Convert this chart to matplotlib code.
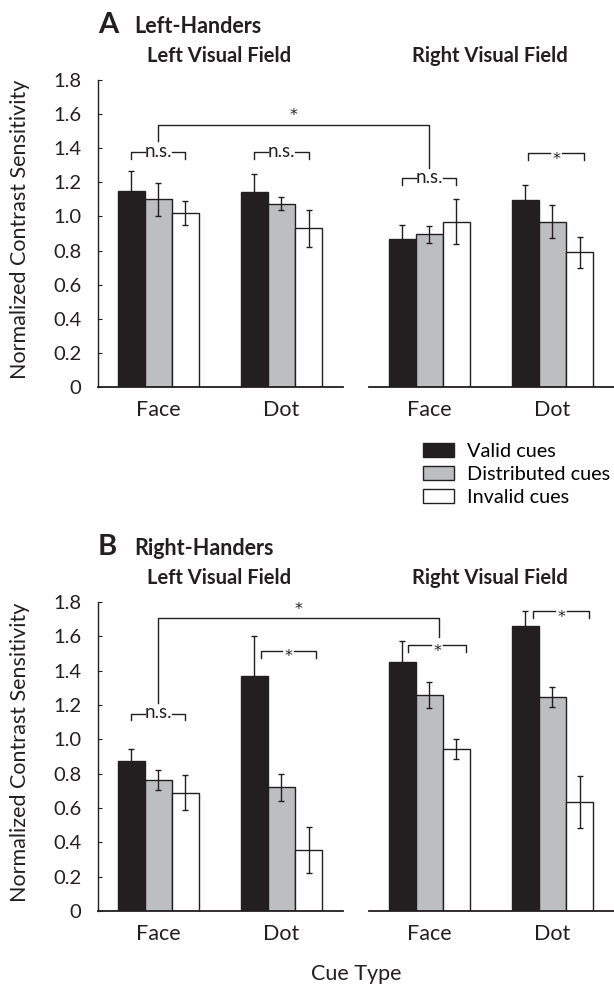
import matplotlib.pyplot as plt
import numpy as np

plt.rcParams['font.family'] = ['Lato', 'DejaVu Sans']

cue_types = ['Face', 'Dot']
conditions = ['Valid cues', 'Distributed cues', 'Invalid cues']
bar_colors = ['#231f20', '#bcbec0', '#ffffff']
ink = '#231f20'

# values per [cue type][condition]
lh_lvf_mean = [[1.15, 1.10, 1.02], [1.145, 1.075, 0.93]]
lh_lvf_err = [[0.115, 0.095, 0.07], [0.105, 0.04, 0.11]]
lh_rvf_mean = [[0.87, 0.895, 0.97], [1.095, 0.97, 0.79]]
lh_rvf_err = [[0.08, 0.05, 0.13], [0.09, 0.095, 0.09]]

rh_lvf_mean = [[0.875, 0.765, 0.69], [1.37, 0.72, 0.355]]
rh_lvf_err = [[0.07, 0.058, 0.10], [0.23, 0.077, 0.133]]
rh_rvf_mean = [[1.45, 1.26, 0.945], [1.66, 1.245, 0.635]]
rh_rvf_err = [[0.125, 0.075, 0.058], [0.09, 0.058, 0.15]]

# significance brackets: (field, cue index, x from, x to, height, label)
lh_brackets = [(0, 0, -0.22, 0.22, 1.375, 'n.s.'),
               (0, 1, -0.22, 0.22, 1.375, 'n.s.'),
               (1, 0, -0.22, 0.22, 1.225, 'n.s.'),
               (1, 1, -0.20, 0.26, 1.37, '*')]
rh_brackets = [(0, 0, -0.22, 0.22, 1.15, 'n.s.'),
               (0, 1, -0.17, 0.28, 1.515, '*'),
               (1, 0, -0.17, 0.30, 1.548, '*'),
               (1, 1, -0.16, 0.30, 1.746, '*')]
# across-field bracket: (left x, left bottom, right x, right bottom, top)
lh_cross = (0.0, 1.44, 0.0, 1.285, 1.537)
rh_cross = (0.0, 1.21, 0.08, 1.597, 1.704)

W, H = 614, 986
fig = plt.figure(figsize=(W / 100, H / 100), dpi=100)

bw = 0.22
x = np.arange(len(cue_types))


def fy(py):
    return 1 - py / H


def star(ax, xs, ys):
    # asterisk glyph sits high in the line, so nudge it down onto the bracket
    ax.text(xs, ys - 0.035, '*', ha='center', va='center', fontsize=11.5, color=ink,
            family='DejaVu Sans', zorder=5, clip_on=False)


def draw_panel(top, bottom, fields, brackets, cross, letter, name):
    axes = []
    for i, (mean, err) in enumerate(fields):
        left = 98 if i == 0 else 369
        ax = fig.add_axes([left / W, fy(bottom), 245 / W, (bottom - top) / H])
        ax.patch.set_visible(False)
        mean = np.array(mean)
        err = np.array(err)
        for k in range(3):
            ax.bar(x + (k - 1) * bw, mean[:, k], bw, color=bar_colors[k],
                   edgecolor=ink, linewidth=1.0, zorder=2)
            ax.errorbar(x + (k - 1) * bw, mean[:, k], yerr=err[:, k], fmt='none',
                        ecolor=ink, elinewidth=1.0, capsize=2.5, capthick=1.0, zorder=3)
        ax.set_xlim(-0.49, 1.5)
        ax.set_ylim(0, 1.8)
        ax.set_xticks(x)
        ax.set_xticklabels(cue_types, fontsize=15.5)
        ax.tick_params(axis='x', length=0, pad=9, colors=ink)
        for s in ['top', 'right']:
            ax.spines[s].set_visible(False)
        ax.spines['bottom'].set_linewidth(1.3)
        ax.spines['bottom'].set_color(ink)
        if i == 0:
            ax.spines['left'].set_linewidth(1.0)
            ax.spines['left'].set_color(ink)
            ax.set_yticks(np.arange(0, 1.81, 0.2))
            ax.set_yticklabels(['0'] + ['%.1f' % v for v in np.arange(0.2, 1.81, 0.2)],
                               fontsize=14.5)
            ax.tick_params(axis='y', direction='in', length=3, pad=12, colors=ink)
        else:
            ax.spines['left'].set_visible(False)
            ax.set_yticks([])
        axes.append(ax)

    for field, g, x0, x1, h, lab in brackets:
        ax = axes[field]
        mid = g + (x0 + x1) / 2
        if lab == '*':
            gap = 0.05
        else:
            gap = 0.11
        ax.plot([g + x0, g + x0, mid - gap], [h - 0.04, h, h], color=ink, lw=1.0,
                clip_on=False, zorder=4)
        ax.plot([mid + gap, g + x1, g + x1], [h, h, h - 0.04], color=ink, lw=1.0,
                clip_on=False, zorder=4)
        if lab == '*':
            star(ax, mid, h)
        else:
            ax.text(mid, h + 0.005, lab, ha='center', va='center', fontsize=13.5,
                    color=ink, zorder=5, clip_on=False)

    # bracket across the two visual fields, drawn in the left axes
    lx, lb, rx, rb, top_h = cross
    disp = axes[1].transData.transform((rx, top_h))
    rx_left = axes[0].transData.inverted().transform(disp)[0]
    axes[0].plot([lx, lx, rx_left, rx_left], [lb, top_h, top_h, rb],
                 color=ink, lw=1.0, clip_on=False, zorder=4)
    star(axes[0], (lx + rx_left) / 2, top_h + 0.09)

    fig.text(98 / W, fy(top - 47), letter, fontsize=21, fontweight='bold',
             ha='left', va='baseline', color=ink)
    fig.text(134 / W, fy(top - 47), name, fontsize=15.5, fontweight='bold',
             ha='left', va='baseline', color=ink)
    fig.text(219 / W, fy(top - 18), 'Left Visual Field', fontsize=14.5, fontweight='bold',
             ha='center', va='baseline', color=ink)
    fig.text(490 / W, fy(top - 18), 'Right Visual Field', fontsize=14.5, fontweight='bold',
             ha='center', va='baseline', color=ink)
    fig.text(20 / W, fy((top + bottom) / 2 - 4), 'Normalized Contrast Sensitivity',
             rotation=90, fontsize=15.5, ha='center', va='center', color=ink)
    return axes


axes_a = draw_panel(80, 387, [(lh_lvf_mean, lh_lvf_err), (lh_rvf_mean, lh_rvf_err)],
                    lh_brackets, lh_cross, 'A', 'Left-Handers')
axes_b = draw_panel(602, 911, [(rh_lvf_mean, rh_lvf_err), (rh_rvf_mean, rh_rvf_err)],
                    rh_brackets, rh_cross, 'B', 'Right-Handers')

handles = [plt.Rectangle((0, 0), 1, 1, facecolor=c, edgecolor=ink, linewidth=1.0)
           for c in bar_colors]
fig.legend(handles, conditions, loc='upper left', bbox_to_anchor=(423 / W, fy(443)),
           frameon=False, fontsize=14.3, handlelength=1.55, handleheight=0.65,
           handletextpad=0.65, labelspacing=0.3, borderpad=0, borderaxespad=0)

fig.text(356 / W, fy(974), 'Cue Type', fontsize=15.5, ha='center', va='center', color=ink)

fig.savefig('out.png', dpi=100)
